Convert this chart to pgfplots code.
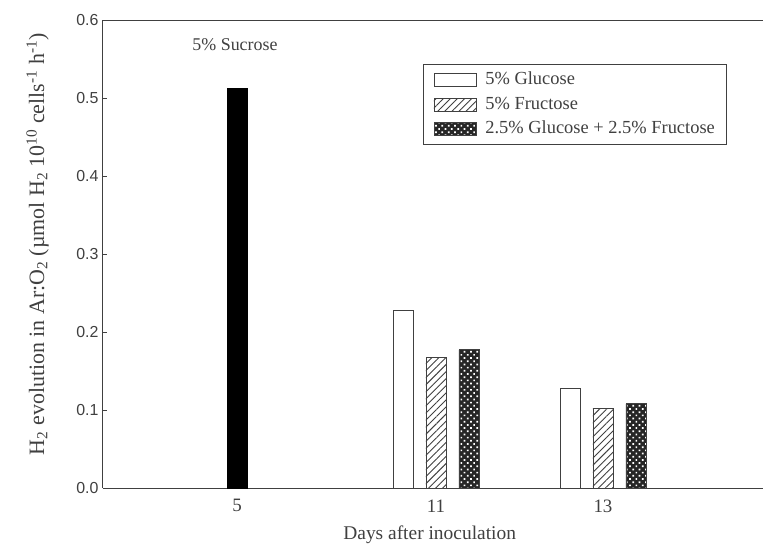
\documentclass[border=0pt]{standalone}
\usepackage{fontspec}
\setmainfont{Liberation Serif}
\setsansfont{Liberation Sans}
\usepackage{pgfplots}
\pgfplotsset{compat=1.18}
\usetikzlibrary{patterns.meta}
\definecolor{ax}{gray}{0.25}
\pgfplotsset{rectleg/.style={legend image code/.code={\draw[##1] (0bp,-6.5bp) rectangle (42bp,6.5bp);}}}
\begin{document}
\begin{tikzpicture}
\useasboundingbox (-103bp,-61bp) rectangle (660bp,488bp);
\begin{axis}[
  scale only axis, width=660bp, height=468bp,
  xmin=0, xmax=660, ymin=0, ymax=0.6,
  axis x line*=bottom, axis y line*=left,
  axis line style={draw=ax, line width=1bp},
  clip=false,
  tick align=inside,
  ytick={0,0.1,...,0.6},
  yticklabel style={/pgf/number format/.cd, fixed, fixed zerofill, precision=1, /pgf/number format/assume math mode=true, /tikz/.cd, font=\sffamily\fontsize{16}{18}\selectfont, color=ax, xshift=-1bp},
  ytick style={draw=ax, line width=0.8bp},
  major tick length=4bp,
  xtick={134,333,500},
  xticklabels={5,11,13},
  xtick style={draw=none},
  xticklabel style={font=\fontsize{19}{21}\selectfont, color=ax, yshift=-8bp},
  every axis x label/.style={at={(axis description cs:0.495,0)}, anchor=center, yshift=-47bp, font=\fontsize{19.5}{22}\selectfont, color=ax},
  every axis y label/.style={at={(axis description cs:-0.099,0.521)}, anchor=center, rotate=90, font=\fontsize{22}{24}\selectfont, color=ax},
  xlabel={Days after inoculation},
  ylabel={H\textsubscript{2} evolution in Ar:O\textsubscript{2} (µmol H\textsubscript{2} 10\textsuperscript{10} cells\textsuperscript{-1} h\textsuperscript{-1})},
  legend style={at={(axis description cs:0.485,0.905)}, anchor=north west, draw=ax, line width=0.8bp,
    font=\fontsize{18.5}{21}\selectfont, text=ax,
    nodes={inner sep=2bp, text height=13bp, text depth=4bp},
    row sep=3.5bp, column sep=7bp, inner xsep=10bp, inner ysep=5bp},
  legend cell align=left,
]
\addplot[ybar, bar width=20, bar shift=0pt, draw=black, fill=black, forget plot]
  coordinates {(134,0.513)};
\addplot[ybar, bar width=20, bar shift=0pt, draw=ax, line width=0.9bp, fill=white, rectleg]
  coordinates {(300,0.227) (467,0.127)};
\addplot[ybar, bar width=20, bar shift=0pt, draw=ax, line width=0.9bp,
  pattern={Lines[angle=45,distance=5bp,line width=0.9bp]}, pattern color=ax, rectleg]
  coordinates {(333,0.167) (500,0.102)};
\addplot[ybar, bar width=20, bar shift=0pt, draw=ax, line width=0.9bp, fill=black!85,
  postaction={pattern={Dots[distance=4.5bp,radius=1.2bp,angle=45]}, pattern color=white}, rectleg]
  coordinates {(366,0.177) (533,0.108)};
\legend{5\% Glucose, 5\% Fructose, 2.5\% Glucose + 2.5\% Fructose}
\draw[ax, line width=1bp] (rel axis cs:0,1) -- (rel axis cs:1,1);
\node[font=\fontsize{18}{20}\selectfont, text=ax] at (axis cs:132,0.569) {5\% Sucrose};
\end{axis}
\end{tikzpicture}
\end{document}
